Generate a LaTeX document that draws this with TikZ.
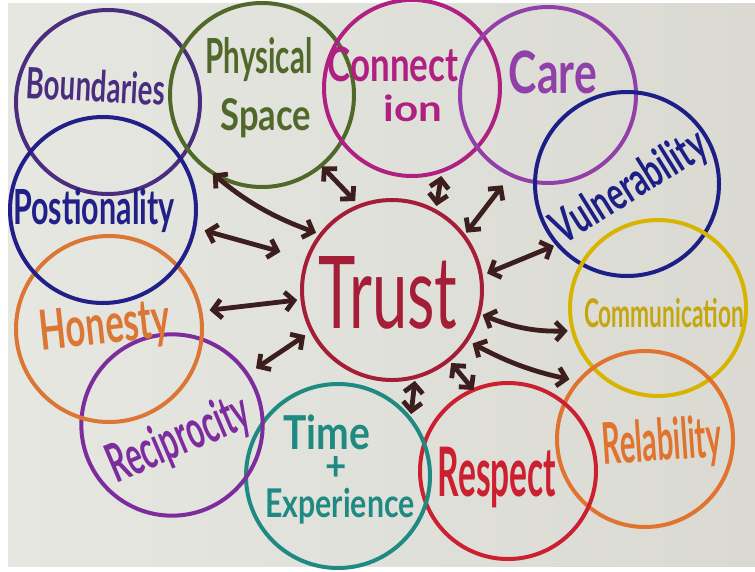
\documentclass[tikz,border=0pt]{standalone}
\usepackage{fontspec}
\usepackage{graphicx}
\setmainfont{Lato}
\usetikzlibrary{arrows.meta,calc}

% marker colours
\definecolor{paperL}{HTML}{E7E7E2}
\definecolor{paperR}{HTML}{DADAD3}
\definecolor{cBnd}{HTML}{4B2D7F}
\definecolor{cPhy}{HTML}{50692A}
\definecolor{cCon}{HTML}{B02080}
\definecolor{cCare}{HTML}{9040A8}
\definecolor{cVul}{HTML}{1C1F86}
\definecolor{cCom}{HTML}{D6B400}
\definecolor{cComT}{HTML}{C4A60E}
\definecolor{cRel}{HTML}{E0742E}
\definecolor{cRes}{HTML}{CC2030}
\definecolor{cTime}{HTML}{1F8A82}
\definecolor{cRec}{HTML}{7D2C9E}
\definecolor{cHon}{HTML}{DC7634}
\definecolor{cPos}{HTML}{202088}
\definecolor{cTrust}{HTML}{A31E36}
\definecolor{cArrow}{HTML}{3C1E1E}

% text scaled to a given width and height (in pt)
\newcommand{\fitw}[3]{\resizebox{#1pt}{#2pt}{\bfseries #3}}

\tikzset{
  ring/.style={circle, draw=#1, line width=3pt, inner sep=0pt, outer sep=0pt},
  word/.style={text=#1, inner sep=0pt, align=center},
  link/.style={draw=cArrow, line width=3.6pt, line cap=round, line join=round,
    {Straight Barb[length=6.5pt,width=14pt]}-{Straight Barb[length=6.5pt,width=14pt]}}
}

\begin{document}
\begin{tikzpicture}[x=0.75pt,y=-0.75pt]
\useasboundingbox (0,0) rectangle (755,571);
\fill[white] (0,0) rectangle (755,571);
\shade[left color=paperL, right color=paperR] (8,3) rectangle (755,566);

% circles
\node[ring=cBnd,   minimum size=138pt]   (bnd)   at (108,102) {};
\node[ring=cPhy,   minimum size=138pt]   (phy)   at (262,95)  {};
\node[ring=cCon,   minimum size=132pt]   (con)   at (412,88)  {};
\node[ring=cCare,  minimum size=132pt]   (care)  at (548,95)  {};
\node[ring=cVul,   minimum size=138pt]   (vul)   at (627,184) {};
\node[ring=cCom,   minimum size=132pt]   (com)   at (658,308) {};
\node[ring=cRel,   minimum size=132pt]   (rel)   at (645,439) {};
\node[ring=cRes,   minimum size=132pt]   (res)   at (508,471) {};
\node[ring=cTime,  minimum size=138pt]   (time)  at (338,476) {};
\node[ring=cRec,   minimum size=136pt]   (rec)   at (172,425) {};
\node[ring=cHon,   minimum size=139.5pt] (hon)   at (109,329) {};
\node[ring=cPos,   minimum size=139.5pt] (pos)   at (103,210) {};
\node[ring=cTrust, minimum size=135pt]   (trust) at (392,290) {};

% labels
\node[word=cBnd]   (tBnd)  at (96,86)   [rotate=-3] {\fitw{104}{24}{Boundaries}};
\node[word=cPhy]   (tPhy1) at (259,60)  {\fitw{80}{27}{Physical}};
\node[word=cPhy]   (tPhy2) at (266,118) {\fitw{68}{24}{Space}};
\node[word=cCon]   (tCon1) at (393,64)  {\fitw{98}{26}{Connect}};
\node[word=cCon]   (tCon2) at (413,108) {\fitw{44}{20}{ion}};
\node[word=cCare]  (tCare) at (553,72)  {\fitw{66}{32}{Care}};
\node[word=cVul]   (tVul)  at (630,188) [rotate=32] {\fitw{130}{26}{Vulnerability}};
\node[word=cComT]  (tCom)  at (664,313) {\fitw{120}{22}{Communication}};
\node[word=cRel]   (tRel)  at (662,444) [rotate=4] {\fitw{90}{32}{Relability}};
\node[word=cRes]   (tRes)  at (497,478) {\fitw{89}{37}{Respect}};
\node[word=cTime]  (tTim1) at (327,432) {\fitw{65}{26}{Time}};
\node[word=cTime]  (tTim2) at (336,468) {\fitw{16}{18}{+}};
\node[word=cTime]  (tTim3) at (340,506) {\fitw{112}{22}{Experience}};
\node[word=cRec]   (tRec)  at (179,440) [rotate=23] {\fitw{112}{30}{Reciprocity}};
\node[word=cHon]   (tHon)  at (105,328) [rotate=6] {\fitw{98}{30}{Honesty}};
\node[word=cPos]   (tPos)  at (94,211)  {\fitw{121}{27}{Postionality}};
\node[word=cTrust] (tTrust) at (388,293) {\fitw{104}{54}{\mdseries Trust}};

% connectors to the centre
\draw[link, shorten <=6pt, shorten >=4pt]  (phy.233)  to[bend right=10] (trust.142);
\draw[link, shorten <=8pt, shorten >=21pt] (pos.349)  to (trust.160);
\draw[link, shorten <=1pt, shorten >=5pt]  (phy.310)  to (trust.111);
\draw[link, shorten <=4pt, shorten >=4pt]  (con.290)  to (trust.61);
\draw[link, shorten <=10pt, shorten >=3pt] (care.245) to (trust.37);
\draw[link, shorten <=3pt, shorten >=5pt]  (vul.221)  to (trust.9);
\draw[link, shorten <=4pt, shorten >=3pt]  (com.195)  to[bend left=12] (trust.345);
\draw[link, shorten <=7pt, shorten >=5pt]  (rel.139)  to[bend left=8] (trust.326);
\draw[link, shorten <=0pt, shorten >=3pt]  (res.113)  to (trust.309);
\draw[link, shorten <=3pt, shorten >=4pt]  (trust.285) to (time.38);
\draw[link, shorten <=8pt, shorten >=6pt]  (rec.34)   to (trust.207);
\draw[link, shorten <=7pt, shorten >=4pt]  (hon.11)   to (trust.186);
\end{tikzpicture}
\end{document}
